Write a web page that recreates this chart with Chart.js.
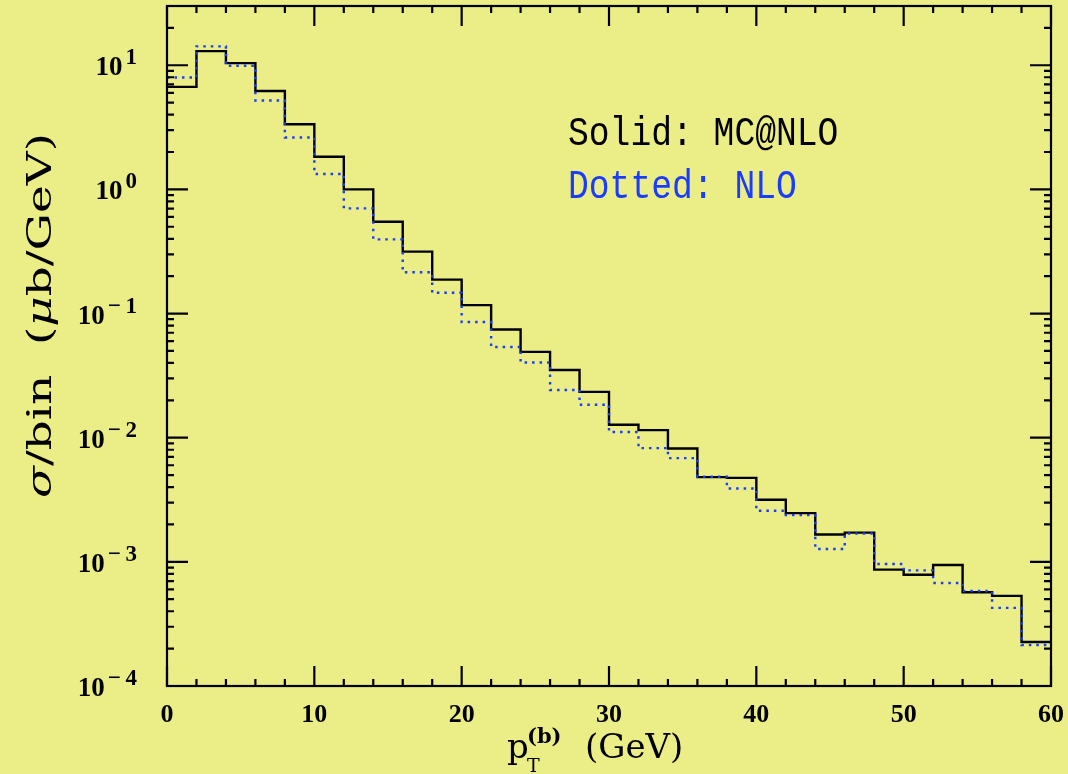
<!DOCTYPE html>
<html lang="en">
<head>
<meta charset="UTF-8">
<title>b-quark pT: MC@NLO vs NLO</title>
<style>
    body {
        margin: 0;
        background: #ebee87;
    }
    .wrap {
        position: relative;
        width: 1068px;
        height: 774px;
    }
</style>
</head>
<body>
<div class="wrap"><canvas id="ptChart"></canvas></div>

<script src="https://cdn.jsdelivr.net/npm/chart.js"></script>
<script>
    // bin edges in GeV (2 GeV bins)
    const binEdges = [0, 2, 4, 6, 8, 10, 12, 14, 16, 18, 20, 22, 24, 26, 28, 30,
                      32, 34, 36, 38, 40, 42, 44, 46, 48, 50, 52, 54, 56, 58, 60];

    // sigma per bin (mub/GeV)
    const mcatnlo = [6.7, 13.0, 10.4, 6.2, 3.35, 1.83, 1.0, 0.548, 0.315, 0.1875,
                     0.117, 0.0743, 0.0491, 0.0351, 0.0234, 0.0127, 0.0115, 0.00818, 0.00481, 0.00475,
                     0.00316, 0.00247, 0.00166, 0.00172, 0.000865, 0.000788, 0.000944, 0.000569, 0.000532, 0.000226];
    const nlo = [7.96, 14.2, 9.9, 5.2, 2.62, 1.33, 0.703, 0.396, 0.215, 0.147,
                 0.0855, 0.0538, 0.0403, 0.0242, 0.0184, 0.0111, 0.00824, 0.00685, 0.00485, 0.0039,
                 0.00258, 0.00238, 0.00127, 0.00169, 0.000961, 0.000853, 0.000676, 0.000583, 0.000426, 0.000214];

    const xMajor = [0, 10, 20, 30, 40, 50, 60];
    const yDecades = [-4, -3, -2, -1, 0, 1];
    const yMin = 1e-4, yMax = 30;

    const blue = '#1a3cff';

    // histogram as step line: value holds from left edge to next edge
    function stepPoints(vals) {
        const pts = vals.map((v, i) => ({x: binEdges[i], y: v}));
        pts.push({x: binEdges[vals.length], y: vals[vals.length - 1]});
        return pts;
    }

    // draw text segments [font, text] in a row, squeezed/stretched to a given width
    function fitRow(ctx, segs, x0, y0, width) {
        let tw = 0;
        segs.forEach(s => { ctx.font = s[0]; tw += ctx.measureText(s[1]).width; });
        ctx.save();
        ctx.translate(x0, y0);
        ctx.scale(width / tw, 1);
        let cx = 0;
        segs.forEach(s => { ctx.font = s[0]; ctx.fillText(s[1], cx, 0); cx += ctx.measureText(s[1]).width; });
        ctx.restore();
    }

    // frame, inward ticks on all four sides, log labels, titles, legend text
    const decorations = {
        id: 'decorations',
        afterDraw(chart) {
            const {ctx, chartArea: a, scales: {x, y}} = chart;
            ctx.save();
            ctx.strokeStyle = '#000';
            ctx.lineWidth = 2.2;
            ctx.strokeRect(a.left, a.top, a.right - a.left, a.bottom - a.top);

            ctx.beginPath();
            binEdges.forEach(v => {
                const px = x.getPixelForValue(v);
                const len = xMajor.includes(v) ? 20 : 7;
                ctx.moveTo(px, a.bottom); ctx.lineTo(px, a.bottom - len);
                ctx.moveTo(px, a.top); ctx.lineTo(px, a.top + len);
            });
            yDecades.forEach(e => {
                for (let m = 1; m <= 9; m++) {
                    const v = m * Math.pow(10, e);
                    if (v < yMin || v > yMax) continue;
                    const py = y.getPixelForValue(v);
                    const len = m === 1 ? 21 : 7;
                    ctx.moveTo(a.left, py); ctx.lineTo(a.left + len, py);
                    ctx.moveTo(a.right, py); ctx.lineTo(a.right - len, py);
                }
            });
            ctx.stroke();

            // y tick labels 10^n
            ctx.fillStyle = '#000';
            ctx.textBaseline = 'alphabetic';
            ctx.textAlign = 'left';
            const baseFont = 'bold 27px "Liberation Serif"';
            const expFont = 'bold 23px "Liberation Serif"';
            yDecades.forEach(e => {
                const py = y.getPixelForValue(Math.pow(10, e));
                const expTxt = e < 0 ? '\u2212\u2009' + (-e) : String(e);
                ctx.font = baseFont;
                const wb = ctx.measureText('10').width;
                ctx.font = expFont;
                const we = ctx.measureText(expTxt).width;
                const x0 = 137 - we - wb - 3;
                ctx.font = baseFont;
                ctx.fillText('10', x0, py + 10);
                ctx.font = expFont;
                ctx.fillText(expTxt, x0 + wb + 3, py - 1);
            });

            // y title, rotated
            ctx.save();
            ctx.translate(51, 0);
            ctx.rotate(-Math.PI / 2);
            fitRow(ctx, [['italic 33px "DejaVu Serif"', '\u03c3'], ['33px "DejaVu Serif"', '/bin  ('],
                         ['italic 33px "DejaVu Serif"', '\u03bc'], ['33px "DejaVu Serif"', 'b/GeV)']],
                   -498, 0, 365);
            ctx.restore();

            // x title p_T^(b) (GeV)
            ctx.font = '34px "DejaVu Serif"';
            ctx.fillText('p', 507, 758);
            ctx.font = '19px "DejaVu Serif"';
            ctx.fillText('T', 527, 772);
            ctx.font = 'bold 21px "DejaVu Serif"';
            ctx.fillText('(b)', 527, 743);
            ctx.font = '34px "DejaVu Serif"';
            ctx.fillText('(GeV)', 585, 758);

            // legend text
            [['Solid: MC@NLO', '#000', 145], ['Dotted: NLO', blue, 198]].forEach(([t, c, by]) => {
                ctx.fillStyle = c;
                fitRow(ctx, [['40px "Liberation Mono"', t]], 568, by, t.length * 20.8);
            });
            ctx.restore();
        }
    };

    const ctx = document.getElementById('ptChart').getContext('2d');

    new Chart(ctx, {
        type: 'line',
        data: {
            datasets: [{
                label: 'Solid: MC@NLO',
                data: stepPoints(mcatnlo),
                stepped: true,
                borderColor: '#000',
                borderWidth: 2.4,
                pointRadius: 0,
                fill: false,
                order: 2
            }, {
                label: 'Dotted: NLO',
                data: stepPoints(nlo),
                stepped: true,
                borderColor: blue,
                borderWidth: 2.4,
                borderDash: [2.5, 5],
                pointRadius: 0,
                fill: false,
                order: 1
            }]
        },
        options: {
            responsive: true,
            maintainAspectRatio: false,
            animation: false,
            layout: {
                padding: {left: 0, right: 17, top: 6, bottom: 0}
            },
            plugins: {
                legend: {display: false},
                tooltip: {enabled: false}
            },
            scales: {
                x: {
                    type: 'linear',
                    min: 0,
                    max: 60,
                    grid: {display: false, drawTicks: false},
                    border: {display: false},
                    ticks: {
                        stepSize: 10,
                        maxRotation: 0,
                        padding: 14,
                        color: '#000',
                        font: {family: 'Liberation Serif', size: 26, weight: 'bold'}
                    },
                    afterFit: s => { s.height = 88; s.paddingLeft = 0; s.paddingRight = 0; }
                },
                y: {
                    type: 'logarithmic',
                    min: yMin,
                    max: yMax,
                    grid: {display: false, drawTicks: false},
                    border: {display: false},
                    ticks: {display: false},
                    afterFit: s => { s.width = 167; }
                }
            }
        },
        plugins: [decorations]
    });
</script>
</body>
</html>
